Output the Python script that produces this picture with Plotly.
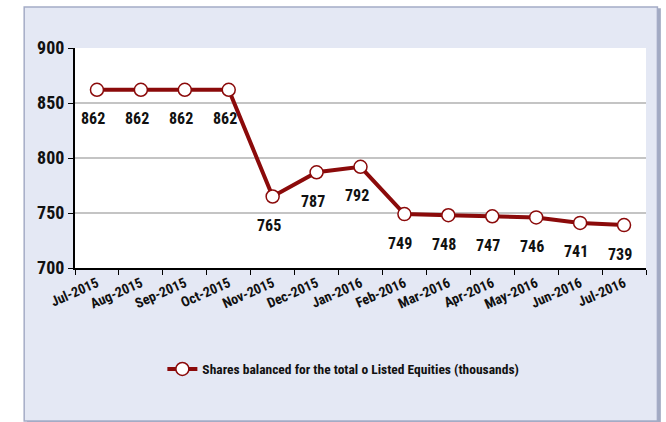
import plotly.graph_objects as go

months = ["Jul-2015", "Aug-2015", "Sep-2015", "Oct-2015", "Nov-2015", "Dec-2015",
          "Jan-2016", "Feb-2016", "Mar-2016", "Apr-2016", "May-2016", "Jun-2016", "Jul-2016"]
shares = [862, 862, 862, 862, 765, 787, 792, 749, 748, 747, 746, 741, 739]
series_name = "Shares balanced for the total o Listed Equities (thousands)"
y_ticks = [700, 750, 800, 850, 900]

FONT = "Roboto Condensed, DejaVu Sans Condensed, sans-serif"
RED = "#8B0A0A"

fig = go.Figure()
fig.add_trace(go.Scatter(
    x=months, y=shares, mode="lines+markers", name=series_name,
    line=dict(color=RED, width=4),
    marker=dict(symbol="circle", size=13, color="white", line=dict(color=RED, width=1.5)),
))

for m, v in zip(months, shares):
    fig.add_annotation(x=m, y=v, text=str(v), showarrow=False, yshift=-29, xshift=-4,
                       font=dict(family=FONT, size=16, color="#111111", weight="bold"))

# outer frame (bevel look) and white plot area
fig.add_shape(type="rect", xref="paper", yref="paper", x0=-0.084, x1=1.026, y0=-0.705, y1=1.181,
              fillcolor="#A2AAC2", line=dict(width=0), layer="below")
fig.add_shape(type="rect", xref="paper", yref="paper", x0=-0.089, x1=1.020, y0=-0.695, y1=1.186,
              fillcolor="#E4E8F4", line=dict(color="#A4ACC6", width=1.5), layer="below")
fig.add_shape(type="rect", xref="paper", yref="paper", x0=0, x1=1, y0=0, y1=1,
              fillcolor="white", line=dict(width=0), layer="below")

fig.update_layout(
    width=666, height=422,
    margin=dict(l=75, r=20, t=48, b=154),
    paper_bgcolor="white", plot_bgcolor="rgba(0,0,0,0)",
    font=dict(family=FONT, color="#111111"),
    showlegend=True,
    legend=dict(orientation="h", x=0.47, xanchor="center", y=-0.46, yanchor="middle",
                bgcolor="rgba(0,0,0,0)",
                font=dict(family=FONT, size=13.5, color="#111111", weight="bold")),
    xaxis=dict(type="category", tickangle=-24, tickson="boundaries", ticks="outside",
               ticklen=5, tickcolor="black", showline=True, linecolor="black", linewidth=2,
               showgrid=False, tickfont=dict(family=FONT, size=14, color="#111111", weight="bold"),
               range=[-0.5, 12.5]),
    yaxis=dict(range=[700, 900], tickvals=y_ticks, ticks="outside", ticklen=5, tickcolor="black",
               showline=True, linecolor="black", linewidth=2, showgrid=True,
               gridcolor="#C4C4C4", gridwidth=1.5, zeroline=False,
               tickfont=dict(family=FONT, size=18, color="#111111", weight="bold")),
)

fig.write_html("out.html", config={"displayModeBar": False},
               post_script="document.body.style.margin='0'")
